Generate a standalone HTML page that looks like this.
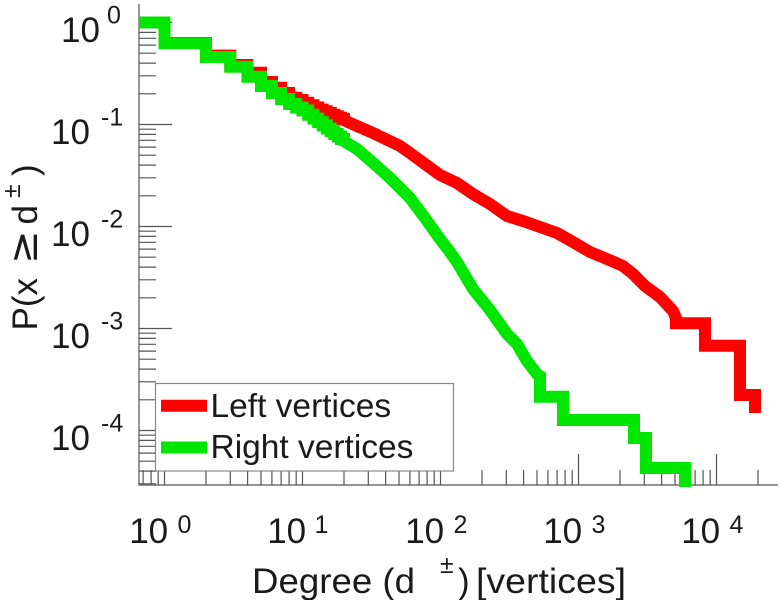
<!DOCTYPE html>
<html>
<head>
<meta charset="utf-8">
<style>
html,body{margin:0;padding:0;background:#fff;}
svg{display:block;}
text{font-family:"Liberation Sans",Arial,sans-serif;fill:#1a1a1a;}
</style>
</head>
<body>
<svg width="780" height="600" viewBox="0 0 780 600" xmlns="http://www.w3.org/2000/svg">
<defs>
<clipPath id="pa"><rect x="139" y="0" width="641" height="487"/></clipPath>
</defs>
<rect x="0" y="0" width="780" height="600" fill="#fff"/>

<!-- axes -->
<g stroke="#555" stroke-width="1.2" fill="none">
<line x1="139" y1="4" x2="139" y2="485.5"/>
<line x1="138.5" y1="485" x2="778" y2="485"/>
<!-- y major ticks -->
<path d="M139,22.5H172M139,124.5H172M139,226.5H172M139,328.5H172M139,430.5H172"/>
<!-- y minor ticks -->
<path d="M139,93.8H156M139,75.8H156M139,63.1H156M139,53.2H156M139,45.1H156M139,38.3H156M139,32.4H156M139,27.2H156
M139,195.8H156M139,177.8H156M139,165.1H156M139,155.2H156M139,147.1H156M139,140.3H156M139,134.4H156M139,129.2H156
M139,297.8H156M139,279.8H156M139,267.1H156M139,257.2H156M139,249.1H156M139,242.3H156M139,236.4H156M139,231.2H156
M139,399.8H156M139,381.8H156M139,369.1H156M139,359.2H156M139,351.1H156M139,344.3H156M139,338.4H156M139,333.2H156
M139,483.8H156M139,471.1H156M139,461.2H156M139,453.1H156M139,446.3H156M139,440.4H156M139,435.2H156"/>
<!-- x major ticks -->
<path d="M164.5,485V454M302.5,485V454M440.5,485V454M578.5,485V454M716.5,485V454"/>
<!-- x minor ticks -->
<path d="M143.1,485V470M151.1,485V470M158.2,485V470
M206,485V470M230.3,485V470M247.6,485V470M261,485V470M271.9,485V470M281.1,485V470M289.1,485V470M296.2,485V470
M344,485V470M368.3,485V470M385.6,485V470M399,485V470M409.9,485V470M419.1,485V470M427.1,485V470M434.2,485V470
M482,485V470M506.3,485V470M523.6,485V470M537,485V470M547.9,485V470M557.1,485V470M565.1,485V470M572.2,485V470
M620,485V470M644.3,485V470M661.6,485V470M675,485V470M685.9,485V470M695.1,485V470M703.1,485V470M710.2,485V470
M758,485V470"/>
</g>

<!-- data -->
<g clip-path="url(#pa)" fill="none" stroke-width="12" stroke-linejoin="miter" stroke-linecap="butt">
<path stroke="#ff0000" d="M139,22.5H164.5V43H206V55.6H230.3V65H247.5V72.7H261V82H271.9V87.7H281.1V93H289.1V97.7H296.2V100H302.5V102.7H308.2V105.2H313.4V107.5H318.2V109.6H322.7V111.3H326.8V113H330.7V114.7H334.3V116.2H337.7V117.7H341V119H344V120.2
L357,126L373,133L400,146L410,153L425,164L440,175L457,183L473,194L490,204L507,216L523,221L540,227L557,233L573,242L590,252L607,259L623,266L633,274L645,286L660,297L673,311L676,318V323.3H705V345.8H740V395H755V413"/>
<path stroke="#00e600" d="M139,22.5H164.5V43.3H206V57H230.3V66.7H247.5V76.7H261V86H271.9V93H281.1V99H289.1V104H296.2V107.5H302.5V110.5H308.2V114.7H313.4V118.6H318.2V122.1H322.7V125.4H326.8V128.5H330.7V131.3H334.3V134H337.7V136.5H341V139H344V141.2
L357,149L373,162.7L390,178L410,198L425,218L440,239L450,252L457,262L473,289L490,310L507,334L517,344L527,361L537,374L540,376V396.7H563V420H634V438H646V468H685V500"/>
</g>

<!-- legend -->
<rect x="155.5" y="383.5" width="298" height="87.5" fill="#fff" stroke="#888" stroke-width="1.2"/>
<line x1="161" y1="405.7" x2="207" y2="405.7" stroke="#ff0000" stroke-width="12"/>
<line x1="161" y1="447.5" x2="207" y2="447.5" stroke="#00e600" stroke-width="12"/>
<text x="210.5" y="417" font-size="33.5">Left vertices</text>
<text x="210.5" y="458" font-size="33.5">Right vertices</text>

<!-- y tick labels -->
<g font-size="35">
<text x="61" y="42">10</text>
<text x="51" y="144">10</text>
<text x="51" y="246">10</text>
<text x="51" y="348">10</text>
<text x="51" y="450">10</text>
</g>
<g font-size="25">
<text x="107" y="23.5">0</text>
<text x="101" y="125.5">-1</text>
<text x="101" y="227.5">-2</text>
<text x="101" y="329.5">-3</text>
<text x="101" y="431.5">-4</text>
</g>

<!-- x tick labels -->
<g font-size="35">
<text x="129.2" y="543">10</text>
<text x="267.2" y="543">10</text>
<text x="405.2" y="543">10</text>
<text x="543.2" y="543">10</text>
<text x="681.2" y="543">10</text>
</g>
<g font-size="25">
<text x="177.5" y="533">0</text>
<text x="314.5" y="533">1</text>
<text x="453.5" y="533">2</text>
<text x="591.5" y="533">3</text>
<text x="729.5" y="533">4</text>
</g>

<!-- x label -->
<text x="252" y="593" font-size="35" textLength="163" lengthAdjust="spacingAndGlyphs">Degree (d</text>
<text x="440" y="573" font-size="25">±</text>
<text x="458" y="593" font-size="35">)</text>
<text x="476" y="593" font-size="35" textLength="150" lengthAdjust="spacingAndGlyphs">[vertices]</text>

<!-- y label -->
<text transform="translate(37,330.5) rotate(-90)" font-size="35">P(x</text>
<text transform="translate(37,264) rotate(-90)" font-size="40" style='font-family:"DejaVu Sans",sans-serif'>≥</text>
<text transform="translate(37,224.5) rotate(-90)" font-size="35">d</text>
<text transform="translate(20,198) rotate(-90)" font-size="25">±</text>
<text transform="translate(37,176) rotate(-90)" font-size="35">)</text>
</svg>
</body>
</html>
